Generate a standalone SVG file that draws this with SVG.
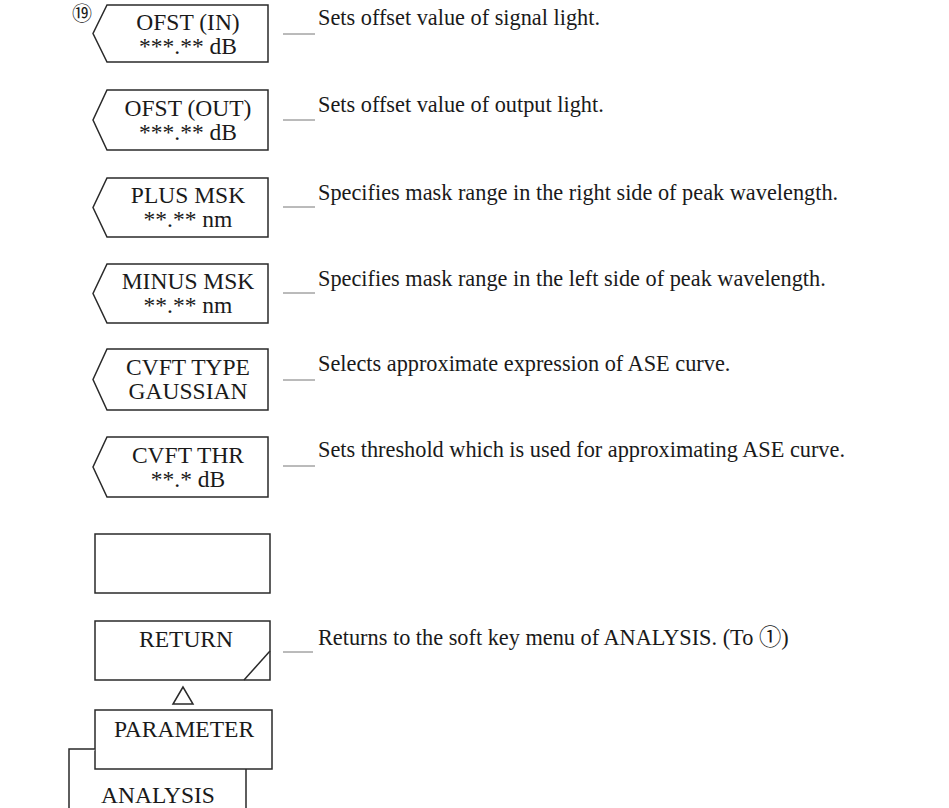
<svg xmlns="http://www.w3.org/2000/svg" width="949" height="808" viewBox="0 0 949 808">
<style>
.box{fill:#fff;stroke:#2a2a2a;stroke-width:1.5}
.lbl{font-family:"Liberation Serif","Times New Roman",serif;font-size:23.5px;fill:#1a1a1a;text-anchor:middle}
.desc{font-family:"Liberation Serif","Times New Roman",serif;font-size:22.3px;fill:#1a1a1a}
.lead{stroke:#777;stroke-width:1;fill:none}
.circ{font-family:"Liberation Serif","Noto Sans CJK JP",serif;fill:#1a1a1a}
</style>
<rect width="949" height="808" fill="#fff"/>
<text class="circ" x="72" y="21" font-size="20">⑲</text>

<g id="ofst-in">
<path class="box" d="M107,5 H268 V62 H107 L93,33.5 Z"/>
<text class="lbl" x="188" y="30">OFST (IN)</text>
<text class="lbl" x="188" y="54">***.** dB</text>
</g>
<g id="ofst-out">
<path class="box" d="M107,90 H268 V150 H107 L93,120 Z"/>
<text class="lbl" x="188" y="116">OFST (OUT)</text>
<text class="lbl" x="188" y="140">***.** dB</text>
</g>
<g id="plus-msk">
<path class="box" d="M107,178 H268 V237 H107 L93,207.5 Z"/>
<text class="lbl" x="188" y="203">PLUS MSK</text>
<text class="lbl" x="188" y="227">**.** nm</text>
</g>
<g id="minus-msk">
<path class="box" d="M107,264 H268 V323 H107 L93,293.5 Z"/>
<text class="lbl" x="188" y="289">MINUS MSK</text>
<text class="lbl" x="188" y="313">**.** nm</text>
</g>
<g id="cvft-type">
<path class="box" d="M107,349 H268 V410 H107 L93,379.5 Z"/>
<text class="lbl" x="188" y="375">CVFT TYPE</text>
<text class="lbl" x="188" y="399">GAUSSIAN</text>
</g>
<g id="cvft-thr">
<path class="box" d="M107,437 H268 V497 H107 L93,467 Z"/>
<text class="lbl" x="188" y="463">CVFT THR</text>
<text class="lbl" x="188" y="487">**.* dB</text>
</g>
<g id="blank">
<rect class="box" x="95" y="534" width="175" height="59"/>
</g>
<g id="return">
<rect class="box" x="95" y="621" width="175" height="59"/>
<path class="box" d="M270,651 L244,680"/>
<text class="lbl" x="186" y="647">RETURN</text>
</g>
<g id="triangle">
<path class="box" d="M183,687 L173,704 H193 Z" fill="none"/>
</g>
<g id="parameter">
<rect class="box" x="95" y="710" width="177" height="59"/>
<text class="lbl" x="184" y="737">PARAMETER</text>
</g>
<g id="analysis">
<path class="box" d="M95,749 H69 V808 M246,769 V808" fill="none"/>
<text class="lbl" x="158" y="803">ANALYSIS</text>
</g>

<g id="connectors">
<line class="lead" x1="283" y1="34" x2="315" y2="34"/>
<line class="lead" x1="283" y1="120" x2="315" y2="120"/>
<line class="lead" x1="283" y1="207" x2="315" y2="207"/>
<line class="lead" x1="283" y1="293" x2="315" y2="293"/>
<line class="lead" x1="283" y1="380" x2="315" y2="380"/>
<line class="lead" x1="283" y1="466" x2="315" y2="466"/>
<line class="lead" x1="283" y1="652" x2="313" y2="652"/>
</g>

<text class="desc" x="318" y="25">Sets offset value of signal light.</text>
<text class="desc" x="318" y="112">Sets offset value of output light.</text>
<text class="desc" x="318" y="200">Specifies mask range in the right side of peak wavelength.</text>
<text class="desc" x="318" y="286">Specifies mask range in the left side of peak wavelength.</text>
<text class="desc" x="318" y="371">Selects approximate expression of ASE curve.</text>
<text class="desc" x="318" y="457">Sets threshold which is used for approximating ASE curve.</text>
<text class="desc" x="318" y="645">Returns to the soft key menu of ANALYSIS. (To <tspan class="circ">①</tspan>)</text>
</svg>
